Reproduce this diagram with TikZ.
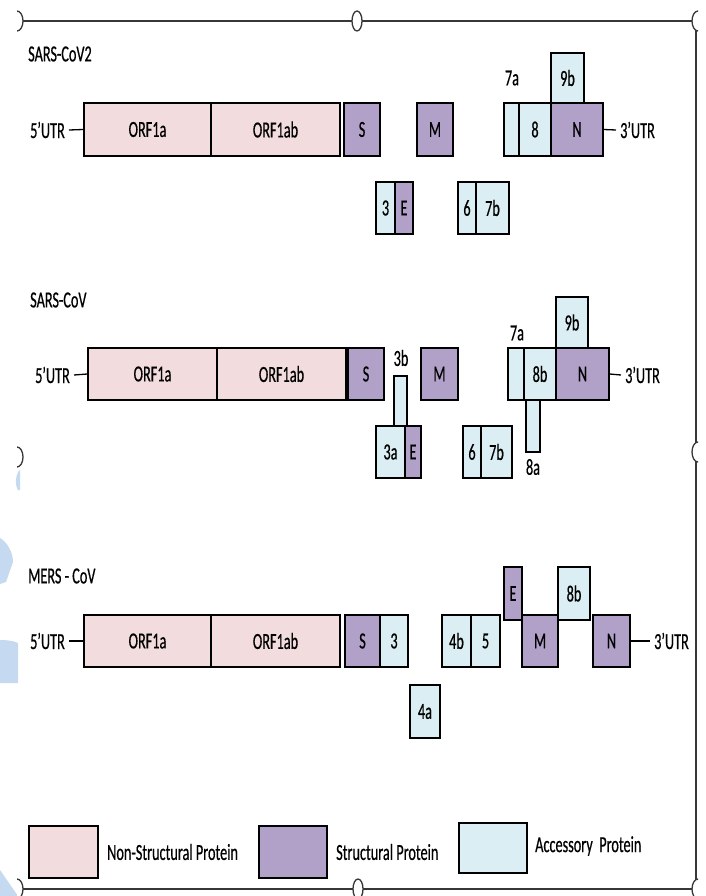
\documentclass[tikz,border=0pt]{standalone}
\usepackage{fontspec}
\setmainfont{Carlito}[FakeStretch=0.62, FakeBold=0.5]
\definecolor{nspink}{RGB}{242,220,221}
\definecolor{stpurple}{RGB}{177,160,199}
\definecolor{acblue}{RGB}{218,238,243}
\definecolor{wmblue}{RGB}{197,217,240}
\definecolor{framegray}{RGB}{55,55,55}
\newcommand\genefont{\fontsize{23}{25}\selectfont}
% gene box: name, x1, y1, x2, y2, style, text
\newcommand\gbox[7]{%
  \node[#6, minimum width={(#4-#2)*1pt}, minimum height={(#5-#3)*1pt}]
    (#1) at ({(#2+#4)/2},{(#3+#5)/2}) {#7};}
\tikzset{
  gene/.style={draw=black, line width=1.3pt, inner sep=0pt, font=\genefont},
  nsp/.style={gene, fill=nspink},
  stp/.style={gene, fill=stpurple},
  acp/.style={gene, fill=acblue},
  lbl/.style={inner sep=0pt, font=\genefont},
  utr5/.style={lbl, anchor=east, inner xsep=4pt},
  utr3/.style={lbl, anchor=west, inner xsep=4pt},
  title/.style={lbl, anchor=west},
  utrline/.style={line width=1.3pt},
  frameline/.style={draw=framegray, line width=1.3pt},
  handle/.style={draw=framegray, line width=1.3pt, fill=white},
}
\begin{document}
\begin{tikzpicture}[x=1pt,y=-1pt]
\useasboundingbox (0,0) rectangle (705,896);
\clip (0,0) rectangle (705,896);

% faint watermark fragments at the left edge
\fill[wmblue] (0,538) .. controls (7,542) and (13,552) .. (13,562)
  -- (6,582) -- (0,584) -- cycle;
\fill[wmblue] (0,640) .. controls (8,640) and (14,641) .. (18,643)
  -- (18,683) -- (0,683) -- cycle;
\fill[wmblue] (20,470) .. controls (15,474) and (15,486) .. (18,490) -- (20,490) -- cycle;
\fill[wmblue] (0,870) -- (18,896) -- (0,896) -- cycle;

% selection frame
\draw[frameline] (17,21) -- (696,21) -- (696,889) -- (17,889);
\begin{scope}
  \clip (17,0) rectangle (40,896);
  \foreach \yy in {21,457,889} \draw[handle] (17,\yy) ellipse [x radius=6, y radius=10];
\end{scope}
\begin{scope}
  \clip (670,0) rectangle (698,896);
  \foreach \yy in {21,452,889} \draw[handle] (698,\yy) ellipse [x radius=6, y radius=10];
\end{scope}
\draw[handle] (357,21) ellipse [x radius=5, y radius=10];
\draw[handle] (358,889) ellipse [x radius=5, y radius=10];

% ---------------- SARS-CoV2 ----------------
\node[title] (t1) at (28,54) {SARS-CoV2};
\gbox{a1}{84}{103}{211}{156}{nsp}{ORF1a}
\gbox{ab1}{211}{103}{340}{156}{nsp}{ORF1ab}
\gbox{s1}{344}{103}{380}{156}{stp}{S}
\gbox{m1}{417}{103}{453}{156}{stp}{M}
\gbox{sa1}{504}{103}{519}{156}{acp}{}
\gbox{e81}{519}{103}{551}{156}{acp}{8}
\gbox{n1}{551}{103}{603}{156}{stp}{N}
\gbox{nb1}{551}{53}{584}{103}{acp}{9b}
\node[lbl] (l7a1) at (512,78) {7a};
\gbox{th1}{376}{182}{395}{234}{acp}{3}
\gbox{en1}{395}{182}{413}{234}{stp}{E}
\gbox{si1}{458}{182}{476}{234}{acp}{6}
\gbox{sb1}{476}{182}{509}{234}{acp}{7b}
\node[utr5] (u51) at (69,130) {5'UTR};
\node[utr3] (u31) at (616,130) {3'UTR};
\draw[utrline] (u51.east) -- (a1.west);
\draw[utrline] (n1.east) -- (u31.west);

% ---------------- SARS-CoV ----------------
\node[title] (t2) at (30,300) {SARS-CoV};
\gbox{a2}{88}{348}{217}{400}{nsp}{ORF1a}
\gbox{ab2}{217}{348}{346}{400}{nsp}{ORF1ab}
\gbox{s2}{348}{348}{384}{400}{stp}{S}
\gbox{m2}{421}{348}{458}{400}{stp}{M}
\gbox{sa2}{508}{348}{524}{400}{acp}{}
\gbox{eb2}{524}{348}{556}{400}{acp}{8b}
\gbox{n2}{556}{348}{609}{400}{stp}{N}
\gbox{nb2}{556}{297}{588}{348}{acp}{9b}
\node[lbl] (l7a2) at (517,333) {7a};
\gbox{tb2}{394}{376}{407}{426}{acp}{}
\node[lbl] (l3b2) at (401,358) {3b};
\gbox{ta2}{376}{426}{405}{478}{acp}{3a}
\gbox{en2}{405}{426}{421}{478}{stp}{E}
\gbox{si2}{463}{426}{481}{478}{acp}{6}
\gbox{sb2}{481}{426}{512}{478}{acp}{7b}
\gbox{ea2}{526}{400}{540}{452}{acp}{}
\node[lbl] (l8a2) at (533,467) {8a};
\node[utr5] (u52) at (74,375) {5'UTR};
\node[utr3] (u32) at (621,375) {3'UTR};
\draw[utrline] (u52.east) -- (a2.west);
\draw[utrline] (n2.east) -- (u32.west);

% ---------------- MERS-CoV ----------------
\node[title] (t3) at (28,576) {MERS - CoV};
\gbox{a3}{84}{615}{211}{667}{nsp}{ORF1a}
\gbox{ab3}{211}{615}{340}{667}{nsp}{ORF1ab}
\gbox{s3}{345}{615}{380}{667}{stp}{S}
\gbox{th3}{380}{615}{408}{667}{acp}{3}
\gbox{fa3}{410}{685}{440}{738}{acp}{4a}
\gbox{fb3}{442}{615}{471}{667}{acp}{4b}
\gbox{fi3}{471}{615}{500}{667}{acp}{5}
\gbox{en3}{504}{567}{522}{620}{stp}{E}
\gbox{m3}{522}{615}{558}{667}{stp}{M}
\gbox{eb3}{558}{567}{590}{620}{acp}{8b}
\gbox{n3}{593}{615}{630}{667}{stp}{N}
\node[utr5] (u53) at (69,641) {5'UTR};
\node[utr3] (u33) at (650,641) {3'UTR};
\draw[utrline] (u53.east) -- (a3.west);
\draw[utrline] (n3.east) -- (u33.west);

% ---------------- legend ----------------
\gbox{k1}{29}{826}{98}{878}{nsp}{}
\node[lbl, anchor=west] (k1t) at (107,852) {Non-Structural Protein};
\gbox{k2}{259}{826}{327}{878}{stp}{}
\node[lbl, anchor=west] (k2t) at (336,852) {Structural Protein};
\gbox{k3}{459}{823}{527}{873}{acp}{}
\node[lbl, anchor=west] (k3t) at (535,846) {Accessory\ \ Protein};
\end{tikzpicture}
\end{document}
